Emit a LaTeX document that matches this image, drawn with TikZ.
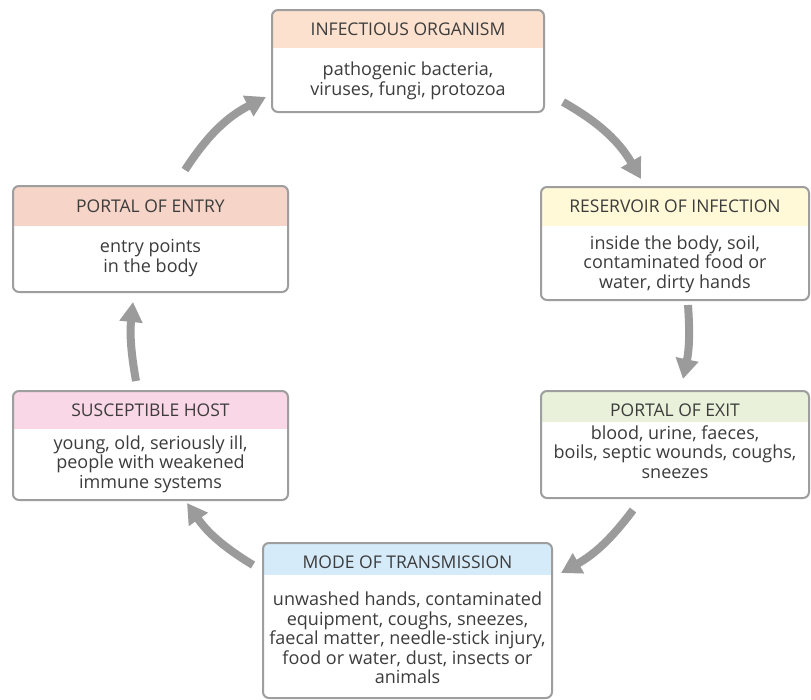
\documentclass[tikz,border=0pt]{standalone}
\usepackage{fontspec}
\setmainfont{Open Sans}
\usetikzlibrary{arrows.meta,fit}
\definecolor{framegray}{RGB}{158,158,158}
\definecolor{arrowgray}{RGB}{155,155,155}
\definecolor{txtgray}{RGB}{60,60,60}
\definecolor{hdrorg}{RGB}{252,225,206}
\definecolor{hdrres}{RGB}{255,249,216}
\definecolor{hdrent}{RGB}{246,212,200}
\definecolor{hdrhost}{RGB}{249,215,230}
\definecolor{hdrexit}{RGB}{233,241,218}
\definecolor{hdrmode}{RGB}{214,235,249}
\tikzset{
  frame/.style={draw=framegray, line width=2pt, rounded corners=6pt, inner sep=0pt},
  hdr/.style={text=txtgray, font=\fontsize{17.5}{20}\selectfont, inner sep=0pt},
  bodytext/.style={text=txtgray, font=\fontsize{18}{19.5}\selectfont, align=center, inner sep=0pt},
  cyc/.style={draw=arrowgray, line width=8pt, -{Triangle[width=22pt,length=20pt]}}
}
\begin{document}
\begin{tikzpicture}[x=1pt,y=1pt]
\useasboundingbox[fill=white] (0,0) rectangle (811,-699);

% INFECTIOUS ORGANISM
\begin{scope}
\clip[rounded corners=6pt] (272,-10) rectangle (544,-112);
\fill[hdrorg] (272,-10) rectangle (544,-48);
\end{scope}
\node[frame, fit={(272,-10) (544,-112)}] (org) {};
\node[hdr] (orgh) at (408,-29) {INFECTIOUS ORGANISM};
\node[bodytext] (orgb) at (408,-81) {pathogenic bacteria,\\viruses, fungi, protozoa};

% RESERVOIR OF INFECTION
\begin{scope}
\clip[rounded corners=6pt] (541,-187) rectangle (809,-300);
\fill[hdrres] (541,-187) rectangle (809,-226);
\end{scope}
\node[frame, fit={(541,-187) (809,-300)}] (res) {};
\node[hdr] (resh) at (675,-206.5) {RESERVOIR OF INFECTION};
\node[bodytext] (resb) at (675,-264) {inside the body, soil,\\contaminated food or\\water, dirty hands};

% PORTAL OF ENTRY
\begin{scope}
\clip[rounded corners=6pt] (13,-186) rectangle (288,-292);
\fill[hdrent] (13,-186) rectangle (288,-226);
\end{scope}
\node[frame, fit={(13,-186) (288,-292)}] (ent) {};
\node[hdr] (enth) at (150.5,-206) {PORTAL OF ENTRY};
\node[bodytext] (entb) at (150.5,-258) {entry points\\in the body};

% SUSCEPTIBLE HOST
\begin{scope}
\clip[rounded corners=6pt] (13,-391) rectangle (288,-500);
\fill[hdrhost] (13,-391) rectangle (288,-429);
\end{scope}
\node[frame, fit={(13,-391) (288,-500)}] (host) {};
\node[hdr] (hosth) at (150.5,-410) {SUSCEPTIBLE HOST};
\node[bodytext] (hostb) at (150.5,-464) {young, old, seriously ill,\\people with weakened\\immune systems};

% PORTAL OF EXIT
\begin{scope}
\clip[rounded corners=6pt] (541,-391) rectangle (809,-498);
\fill[hdrexit] (541,-391) rectangle (809,-422);
\end{scope}
\node[frame, fit={(541,-391) (809,-498)}] (exit) {};
\node[hdr] (exith) at (675,-410) {PORTAL OF EXIT};
\node[bodytext] (exitb) at (675,-452) {blood, urine, faeces,\\boils, septic wounds, coughs,\\sneezes};

% MODE OF TRANSMISSION
\begin{scope}
\clip[rounded corners=6pt] (263,-543) rectangle (552,-698);
\fill[hdrmode] (263,-543) rectangle (552,-575);
\end{scope}
\node[frame, fit={(263,-543) (552,-698)}] (mode) {};
\node[hdr] (modeh) at (407.5,-562) {MODE OF TRANSMISSION};
\node[bodytext] (modeb) at (407.5,-638) {unwashed hands, contaminated\\equipment, coughs, sneezes,\\faecal matter, needle-stick injury,\\food or water, dust, insects or\\animals};

% arrows
\coordinate (a1s) at (185,-170); \coordinate (a1e) at (266,-97);
\coordinate (a2s) at (563,-102); \coordinate (a2e) at (641,-179);
\coordinate (a3s) at (688,-305); \coordinate (a3e) at (683,-379);
\coordinate (a4s) at (633,-510); \coordinate (a4e) at (561,-573);
\coordinate (a5s) at (253,-565); \coordinate (a5e) at (187,-503);
\coordinate (a6s) at (136,-381); \coordinate (a6e) at (133,-302);
\draw[cyc] (a1s) to[bend left=15] (a1e);
\draw[cyc] (a2s) to[bend left=15] (a2e);
\draw[cyc] (a3s) to[bend left=8] (a3e);
\draw[cyc] (a4s) to[bend left=12] (a4e);
\draw[cyc] (a5s) to[bend left=12] (a5e);
\draw[cyc] (a6s) to[bend left=8] (a6e);
\end{tikzpicture}
\end{document}
